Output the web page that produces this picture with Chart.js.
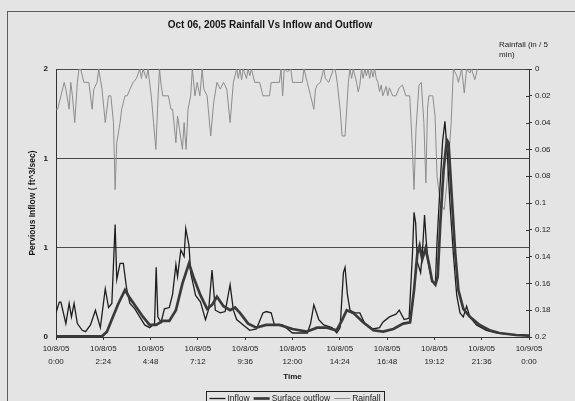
<!DOCTYPE html>
<html>
<head>
<meta charset="utf-8">
<script src="https://cdn.jsdelivr.net/npm/chart.js@4.4.1/dist/chart.umd.min.js"></script>
<style>
  html, body { margin: 0; padding: 0; background: #e4e4e4; }
  #wrap { position: relative; width: 575px; height: 401px; overflow: hidden; }
  canvas { display: block; }
</style>
</head>
<body>
<div id="wrap"><canvas id="chart" width="575" height="401"></canvas></div>
<script>
// Storm of 10/8/05, minutes after midnight.
const inflowMinutes = [0,10,15,30,40,47,55,65,80,90,105,120,135,150,160,170,180,185,195,205,215,225,240,255,270,285,300,305,310,320,330,345,355,365,370,380,390,395,405,410,425,440,455,465,475,485,500,515,530,540,550,570,590,610,630,640,655,665,690,720,765,775,785,800,815,840,855,865,875,880,887,895,910,925,940,965,985,995,1015,1035,1045,1060,1075,1085,1090,1095,1100,1110,1115,1122,1127,1133,1145,1155,1160,1170,1177,1184,1191,1199,1210,1220,1230,1240,1250,1260,1280,1310,1340,1380,1440];
const inflowCfs = [0.18,0.26,0.26,0.10,0.25,0.15,0.25,0.10,0.05,0.04,0.09,0.20,0.07,0.36,0.22,0.25,0.84,0.43,0.55,0.55,0.36,0.25,0.21,0.15,0.09,0.07,0.10,0.52,0.15,0.11,0.21,0.22,0.32,0.54,0.45,0.65,0.60,0.81,0.68,0.48,0.31,0.26,0.13,0.21,0.50,0.20,0.18,0.19,0.39,0.20,0.13,0.09,0.05,0.06,0.18,0.19,0.18,0.09,0.09,0.03,0.03,0.10,0.24,0.13,0.09,0.07,0.03,0.07,0.48,0.52,0.32,0.20,0.18,0.18,0.10,0.06,0.07,0.11,0.15,0.17,0.20,0.13,0.14,0.61,0.93,0.85,0.56,0.48,0.61,0.91,0.72,0.56,0.41,0.40,0.71,1.16,1.46,1.61,1.38,1.01,0.61,0.31,0.18,0.15,0.23,0.15,0.09,0.05,0.03,0.02,0.01];

const outflowMinutes = [0,140,155,170,190,210,225,245,265,285,305,325,345,365,385,405,418,440,460,475,490,510,530,545,560,585,610,640,680,720,763,795,825,854,870,885,905,935,966,996,1027,1057,1078,1090,1100,1107,1115,1125,1135,1145,1155,1162,1170,1180,1190,1195,1205,1215,1225,1240,1260,1290,1320,1350,1400,1440];
const outflowCfs = [0.005,0.005,0.04,0.13,0.25,0.35,0.29,0.22,0.15,0.09,0.09,0.12,0.12,0.20,0.40,0.55,0.45,0.31,0.21,0.24,0.30,0.23,0.20,0.22,0.18,0.10,0.07,0.09,0.09,0.06,0.04,0.07,0.07,0.05,0.12,0.20,0.18,0.11,0.05,0.04,0.06,0.10,0.11,0.35,0.62,0.68,0.58,0.66,0.55,0.42,0.39,0.45,0.85,1.25,1.47,1.45,1.04,0.64,0.35,0.21,0.15,0.09,0.05,0.03,0.015,0.01];

const rainMinutes = [0,5,15,25,30,40,45,50,57,65,70,75,85,100,110,115,125,130,140,150,160,167,175,180,185,195,200,210,217,225,235,245,255,260,265,275,280,290,297,304,309,315,320,325,342,350,355,365,370,376,385,390,396,402,410,415,423,430,438,445,450,460,471,480,490,500,510,520,530,540,550,555,560,565,570,580,585,590,595,605,620,630,650,655,680,685,690,695,705,715,720,750,755,765,775,785,790,795,805,815,820,830,845,850,856,865,871,880,885,890,895,900,905,915,920,925,930,935,940,945,950,955,960,965,970,975,980,985,990,995,1005,1010,1015,1025,1035,1045,1055,1065,1077,1085,1090,1096,1105,1112,1120,1126,1131,1135,1147,1154,1160,1170,1182,1192,1203,1210,1220,1225,1235,1243,1250,1260,1265,1275,1283];
const rainInches = [0.03,0.03,0.02,0.01,0.015,0.03,0.01,0.02,0.04,0.01,0,0,0.01,0.01,0.03,0.015,0.01,0,0.015,0.04,0.02,0.02,0.04,0.09,0.055,0.04,0.03,0.02,0.02,0.015,0.01,0.007,0,0.007,0,0.007,0,0.02,0.04,0.06,0.03,0,0.012,0.02,0.02,0.03,0.03,0.055,0.035,0.045,0.06,0.04,0.06,0.03,0.02,0,0.02,0.01,0.02,0,0.015,0.02,0.05,0.025,0.01,0.015,0.01,0.015,0.04,0.01,0,0.007,0,0.008,0,0.007,0,0.005,0,0.01,0.01,0.02,0.02,0.01,0.01,0,0.02,0,0.002,0,0.01,0.01,0,0.01,0.02,0.03,0.015,0.012,0.01,0,0.007,0.01,0,0,0.01,0.03,0.05,0.05,0.03,0.01,0,0.007,0,0.01,0.017,0.012,0,0.007,0,0.005,0,0.007,0,0.006,0,0.007,0.01,0.017,0.012,0.02,0.013,0.02,0.014,0.02,0.02,0.014,0.012,0.02,0.02,0.06,0.09,0.045,0.012,0.01,0.04,0.085,0.03,0.02,0.02,0.035,0.08,0.1,0.105,0.08,0.04,0,0.005,0.01,0,0.018,0,0.003,0,0.008,0];

// Axis ticks
const timeTickMinutes = [0,144,288,432,576,720,864,1008,1152,1296,1440];
const timeTickLabels = [
  ['10/8/05','0:00'], ['10/8/05','2:24'], ['10/8/05','4:48'], ['10/8/05','7:12'],
  ['10/8/05','9:36'], ['10/8/05','12:00'], ['10/8/05','14:24'], ['10/8/05','16:48'],
  ['10/8/05','19:12'], ['10/8/05','21:36'], ['10/9/05','0:00']
];
const flowTickValues = [0, 2/3, 4/3, 2];
const flowTickLabels = ['0', '1', '1', '2'];
const rainTickValues = [0,0.02,0.04,0.06,0.08,0.1,0.12,0.14,0.16,0.18,0.2];
const rainTickLabels = ['0','0.02','0.04','0.06','0.08','0.1','0.12','0.14','0.16','0.18','0.2'];

const chartTitle = 'Oct 06, 2005 Rainfall Vs Inflow and Outflow';
const rainAxisTitle = ['Rainfall (in / 5', 'min)'];

const FONT = '"Liberation Sans", Arial, sans-serif';

function pairs(xs, ys) {
  return xs.map((x, i) => ({ x: x, y: ys[i] }));
}

// Frame, chart title, rainfall axis caption, inner tick stubs and the boxed legend.
const decorations = {
  id: 'decorations',
  afterDraw(chart) {
    const ctx = chart.ctx;
    ctx.save();

    ctx.strokeStyle = '#5c5c5c';
    ctx.lineWidth = 1;
    ctx.strokeRect(7.5, 11.5, 700, 500);

    ctx.fillStyle = '#151515';
    ctx.font = 'bold 10px ' + FONT;
    ctx.textAlign = 'center';
    ctx.textBaseline = 'middle';
    ctx.fillText(chartTitle, 270, 25);

    ctx.font = '8px ' + FONT;
    ctx.textAlign = 'left';
    ctx.fillStyle = '#222';
    ctx.fillText(rainAxisTitle[0], 499, 44.5);
    ctx.fillText(rainAxisTitle[1], 499, 54.5);

    const rs = chart.scales.rain;
    ctx.strokeStyle = '#333';
    ctx.beginPath();
    rs.ticks.forEach(t => {
      const y = Math.round(rs.getPixelForValue(t.value)) + 0.5;
      ctx.moveTo(rs.left - 3, y);
      ctx.lineTo(rs.left, y);
    });
    ctx.stroke();

    // legend
    const ds = chart.data.datasets;
    ctx.font = '8.5px ' + FONT;
    const lineLen = 16, gapLine = 2, gapItem = 4;
    let total = 0;
    ds.forEach((d, i) => {
      total += lineLen + gapLine + ctx.measureText(d.label).width + (i < ds.length - 1 ? gapItem : 0);
    });
    const cx = 295, boxTop = 391.5, rowY = 398.5;
    const boxLeft = Math.round(cx - total / 2 - 3) + 0.5;
    const boxRight = Math.round(cx + total / 2 + 3) + 0.5;
    ctx.fillStyle = '#e4e4e4';
    ctx.fillRect(boxLeft, boxTop, boxRight - boxLeft, 20);
    ctx.strokeStyle = '#222';
    ctx.lineWidth = 1;
    ctx.strokeRect(boxLeft, boxTop, boxRight - boxLeft, 20);
    let x = cx - total / 2;
    ds.forEach(d => {
      ctx.strokeStyle = d.borderColor;
      ctx.lineWidth = d.borderWidth;
      ctx.beginPath();
      ctx.moveTo(x, rowY);
      ctx.lineTo(x + lineLen, rowY);
      ctx.stroke();
      x += lineLen + gapLine;
      ctx.fillStyle = '#222';
      ctx.textAlign = 'left';
      ctx.fillText(d.label, x, rowY + 0.5);
      x += ctx.measureText(d.label).width + gapItem;
    });

    ctx.restore();
  }
};

new Chart(document.getElementById('chart'), {
  type: 'line',
  data: {
    datasets: [
      {
        label: 'Inflow',
        data: pairs(inflowMinutes, inflowCfs),
        yAxisID: 'flow',
        borderColor: '#1e1e1e',
        borderWidth: 1.3,
        order: 2
      },
      {
        label: 'Surface outflow',
        data: pairs(outflowMinutes, outflowCfs),
        yAxisID: 'flow',
        borderColor: '#3a3a3a',
        borderWidth: 2.7,
        order: 1
      },
      {
        label: 'Rainfall',
        data: pairs(rainMinutes, rainInches),
        yAxisID: 'rain',
        borderColor: '#8c8c8c',
        borderWidth: 1,
        order: 3
      }
    ]
  },
  options: {
    responsive: false,
    animation: false,
    devicePixelRatio: 1,
    layout: { padding: { top: 69, left: 0, right: 0, bottom: 0 } },
    elements: {
      point: { radius: 0, hoverRadius: 0 },
      line: { tension: 0, fill: false, borderJoinStyle: 'miter' }
    },
    plugins: {
      legend: { display: false },
      title: { display: false },
      tooltip: { enabled: false }
    },
    events: [],
    scales: {
      x: {
        type: 'linear',
        min: 0,
        max: 1440,
        afterFit(s) { s.height = 64; },
        afterBuildTicks(s) { s.ticks = timeTickMinutes.map(v => ({ value: v })); },
        ticks: {
          autoSkip: false,
          maxRotation: 0,
          padding: 2,
          color: '#222',
          font: { family: FONT, size: 8, lineHeight: 1.625 },
          callback: (v, i) => timeTickLabels[i]
        },
        grid: { drawOnChartArea: false, drawTicks: true, tickLength: 3, color: '#333' },
        border: { display: true, color: '#333', width: 1 },
        title: {
          display: true,
          text: 'Time',
          color: '#151515',
          font: { family: FONT, size: 8, weight: 'bold', lineHeight: 1.2 },
          padding: { top: 0, bottom: 19.2 }
        }
      },
      flow: {
        type: 'linear',
        position: 'left',
        min: 0,
        max: 2,
        afterFit(s) { s.width = 56; },
        afterBuildTicks(s) { s.ticks = flowTickValues.map(v => ({ value: v })); },
        ticks: {
          padding: 8,
          color: '#151515',
          font: { family: FONT, size: 8, weight: 'bold' },
          callback: (v, i) => flowTickLabels[i]
        },
        grid: { drawTicks: false, color: '#4a4a4a', lineWidth: 1 },
        border: { display: true, color: '#333', width: 1 },
        title: {
          display: true,
          text: 'Pervious Inflow ( ft^3/sec)',
          color: '#151515',
          font: { family: FONT, size: 8.5, weight: 'bold', lineHeight: 1.2 },
          padding: { top: 27.4, bottom: 0 }
        }
      },
      rain: {
        type: 'linear',
        position: 'right',
        reverse: true,
        min: 0,
        max: 0.2,
        afterFit(s) { s.width = 46; },
        afterBuildTicks(s) { s.ticks = rainTickValues.map(v => ({ value: v })); },
        ticks: {
          padding: 3,
          color: '#222',
          font: { family: FONT, size: 8 },
          callback: (v, i) => rainTickLabels[i]
        },
        grid: { drawOnChartArea: false, drawTicks: true, tickLength: 3, color: '#333' },
        border: { display: true, color: '#333', width: 1 }
      }
    }
  },
  plugins: [decorations]
});
</script>
</body>
</html>
